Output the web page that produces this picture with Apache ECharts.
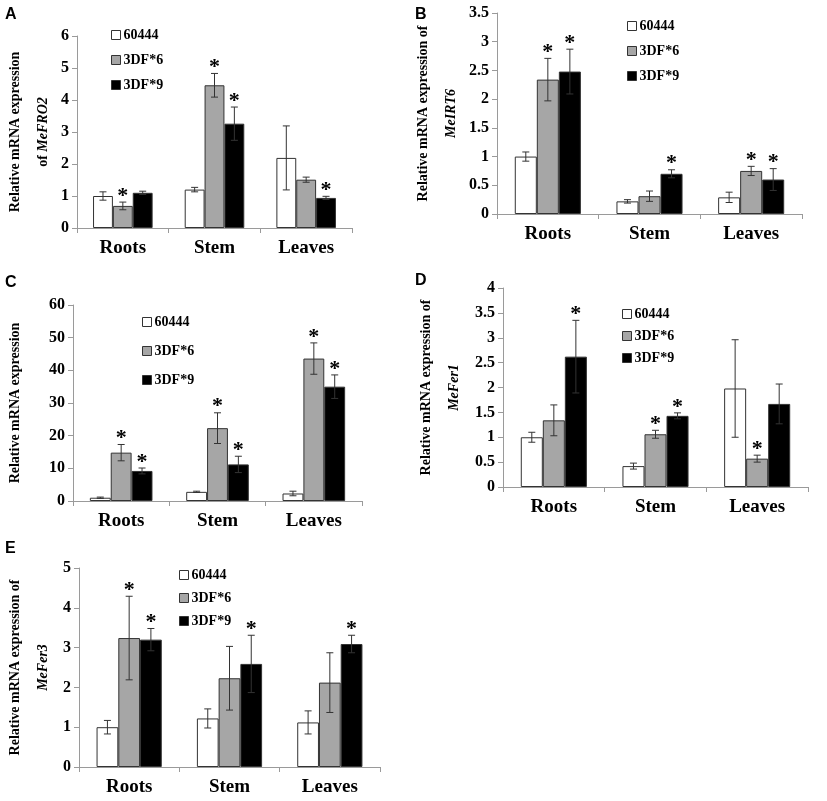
<!DOCTYPE html>
<html>
<head>
<meta charset="utf-8">
<script src="https://cdn.jsdelivr.net/npm/echarts@6/dist/echarts.min.js"></script>
<style>
  html, body { margin: 0; padding: 0; background: #fff; }
  #chart { width: 827px; height: 801px; }
</style>
</head>
<body>
<div id="chart"></div>
<script>
const categories = ['Roots', 'Stem', 'Leaves']
const seriesNames = ['60444', '3DF*6', '3DF*9']

// rows: 60444, 3DF*6, 3DF*9 ; cols: Roots, Stem, Leaves
const fro2Mean = [[1.0, 1.2, 2.19], [0.69, 4.46, 1.51], [1.10, 3.26, 0.94]]
const fro2Err  = [[0.13, 0.07, 1.0], [0.12, 0.37, 0.08], [0.05, 0.52, 0.05]]
const fro2Star = [[0, 0, 0], [1, 1, 0], [0, 1, 1]]

const irt6Mean = [[1.0, 0.22, 0.29], [2.34, 0.31, 0.75], [2.48, 0.70, 0.60]]
const irt6Err  = [[0.08, 0.03, 0.09], [0.37, 0.09, 0.08], [0.39, 0.07, 0.19]]
const irt6Star = [[0, 0, 0], [1, 0, 1], [1, 1, 1]]

const cMean = [[1.0, 2.8, 2.3], [14.8, 22.3, 43.6], [9.2, 11.2, 35.0]]
const cErr  = [[0.2, 0.2, 0.7], [2.5, 4.7, 4.8], [0.9, 2.5, 3.6]]
const cStar = [[0, 0, 0], [1, 1, 1], [1, 1, 1]]

const fer1Mean = [[1.0, 0.42, 1.98], [1.34, 1.06, 0.57], [2.62, 1.43, 1.67]]
const fer1Err  = [[0.1, 0.06, 0.98], [0.31, 0.08, 0.07], [0.73, 0.06, 0.4]]
const fer1Star = [[0, 0, 0], [0, 1, 1], [1, 1, 0]]

const fer3Mean = [[1.0, 1.22, 1.12], [3.24, 2.23, 2.12], [3.2, 2.59, 3.09]]
const fer3Err  = [[0.17, 0.24, 0.29], [1.05, 0.8, 0.75], [0.28, 0.72, 0.22]]
const fer3Star = [[0, 0, 0], [1, 0, 0], [1, 1, 1]]

// y axis ranges per panel
const yMax      = [6, 3.5, 60, 4, 5]
const yInterval = [1, 0.5, 10, 0.5, 1]

const SERIF = 'Liberation Serif, Times New Roman, serif'
const BAR_COLORS = ['#ffffff', '#a6a6a6', '#000000']
const AXIS_GREY = '#9a9a9a'
const CAT_GAP = 0.35

// layout of each panel (pixels)
const panels = [
  { letter: 'A', grid: { left: 72,  top: 36,  width: 280, height: 192 }, mean: fro2Mean, err: fro2Err, star: fro2Star,
    title: 'Relative mRNA expression\nof {i|MeFRO2}', nameGap: 20,
    legend: { left: 106, top: 23, itemGap: 11 }, lx: 10, ly: 15 },
  { letter: 'B', grid: { left: 497, top: 13,  width: 305, height: 201 }, mean: irt6Mean, err: irt6Err, star: irt6Star,
    title: 'Relative mRNA expression of\n{i|MeIRT6}', nameGap: 29,
    legend: { left: 622, top: 14, itemGap: 11 }, lx: 420, ly: 15 },
  { letter: 'C', grid: { left: 72,  top: 305, width: 290, height: 196 }, mean: cMean, err: cErr, star: cStar,
    title: 'Relative mRNA expression', nameGap: 44,
    legend: { left: 137, top: 310, itemGap: 15 }, lx: 10, ly: 283 },
  { letter: 'D', grid: { left: 503, top: 288, width: 305, height: 199 }, mean: fer1Mean, err: fer1Err, star: fer1Star,
    title: 'Relative mRNA expression of\n{i|MeFer1}', nameGap: 35,
    legend: { left: 617, top: 302, itemGap: 8 }, lx: 420, ly: 281 },
  { letter: 'E', grid: { left: 73,  top: 568, width: 307, height: 199 }, mean: fer3Mean, err: fer3Err, star: fer3Star,
    title: 'Relative mRNA expression of\n{i|MeFer3}', nameGap: 22,
    legend: { left: 174, top: 563, itemGap: 9 }, lx: 10, ly: 549 },
]

function errorRender(k) {
  return function (params, api) {
    const ci = api.value(0), m = api.value(1), e = api.value(2), star = api.value(3)
    const band = api.size([1, 0])[0]
    const bw = band * (1 - CAT_GAP) / 3
    const x = api.coord([ci, 0])[0] + (k - 1) * bw
    const yTop = api.coord([ci, m + e])[1]
    const yBot = api.coord([ci, m - e])[1]
    const cap = 3.5
    const st = { stroke: '#333', lineWidth: 1 }
    const children = [
      { type: 'line', shape: { x1: x, y1: yTop, x2: x, y2: yBot }, style: st },
      { type: 'line', shape: { x1: x - cap, y1: yTop, x2: x + cap, y2: yTop }, style: st },
      { type: 'line', shape: { x1: x - cap, y1: yBot, x2: x + cap, y2: yBot }, style: st },
    ]
    if (star) {
      children.push({
        type: 'text',
        style: { text: '*', x: x, y: yTop + 5, align: 'center', verticalAlign: 'bottom',
                 font: 'bold 22px ' + SERIF, fill: '#000' },
      })
    }
    return { type: 'group', children }
  }
}

const grids = [], xAxes = [], yAxes = [], series = [], legends = [], graphics = []

panels.forEach((p, i) => {
  grids.push(p.grid)
  xAxes.push({
    type: 'category', gridIndex: i, data: categories,
    axisLine: { lineStyle: { color: AXIS_GREY } },
    axisTick: { show: true, length: 5, interval: 0, lineStyle: { color: AXIS_GREY } },
    axisLabel: { fontFamily: SERIF, fontWeight: 'bold', fontSize: 19, color: '#000', margin: 11 },
  })
  yAxes.push({
    type: 'value', gridIndex: i, min: 0, max: yMax[i], interval: yInterval[i],
    axisLine: { show: true, lineStyle: { color: AXIS_GREY } },
    axisTick: { show: true, length: 5, lineStyle: { color: AXIS_GREY } },
    splitLine: { show: false },
    axisLabel: { fontFamily: SERIF, fontWeight: 'bold', fontSize: 16, color: '#000', margin: 8 },
    name: p.title, nameLocation: 'middle', nameRotate: 90, nameGap: p.nameGap,
    nameTextStyle: {
      fontFamily: SERIF, fontWeight: 'bold', fontSize: 14, color: '#000', lineHeight: 28,
      rich: { i: { fontFamily: SERIF, fontWeight: 'bold', fontStyle: 'italic', fontSize: 14, lineHeight: 28 } },
    },
  })
  seriesNames.forEach((name, k) => {
    series.push({
      name, type: 'bar', xAxisIndex: i, yAxisIndex: i,
      data: p.mean[k],
      barGap: '0%', barCategoryGap: (CAT_GAP * 100) + '%',
      itemStyle: { color: BAR_COLORS[k], borderColor: '#333', borderWidth: 1 },
      animation: false,
    })
    series.push({
      name: name + ' err', type: 'custom', xAxisIndex: i, yAxisIndex: i,
      renderItem: errorRender(k),
      encode: { x: 0, y: 1 },
      data: categories.map((c, ci) => [ci, p.mean[k][ci], p.err[k][ci], p.star[k][ci]]),
      z: 5, animation: false,
    })
  })
  legends.push({
    data: seriesNames, orient: 'vertical', left: p.legend.left, top: p.legend.top,
    itemGap: p.legend.itemGap, itemWidth: 9, itemHeight: 9, icon: 'rect',
    selectedMode: false,
    itemStyle: { borderColor: '#333', borderWidth: 1 },
    textStyle: { fontFamily: SERIF, fontWeight: 'bold', fontSize: 14, color: '#000', padding: [0, 0, 0, -2] },
  })
  graphics.push({
    type: 'text', left: p.lx - 5, top: p.ly - 8,
    style: { text: p.letter, font: 'bold 16px Liberation Sans, Arial, sans-serif', fill: '#000' },
  })
})

const chart = echarts.init(document.getElementById('chart'), null, { renderer: 'canvas' })
chart.setOption({
  backgroundColor: '#fff',
  animation: false,
  grid: grids,
  xAxis: xAxes,
  yAxis: yAxes,
  legend: legends,
  series,
  graphic: graphics,
})
</script>
</body>
</html>
